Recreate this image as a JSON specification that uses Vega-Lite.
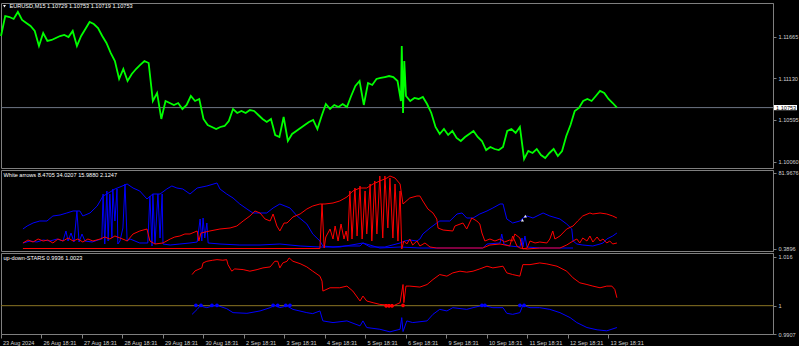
{
"$schema":"https://vega.github.io/schema/vega-lite/v6.json",
"background":"#000000",
"padding":{"left":-4,"top":2,"right":0,"bottom":0},
"spacing":2,
"bounds":"flush",
"resolve":{"scale":{"color":"independent","y":"independent","x":"independent"}},
"config":{"view":{"stroke":"#7f7f7f","strokeWidth":1},"axis":{"labelFont":"Liberation Sans","labelFontSize":5.6,"labelColor":"#d0d0d0","tickColor":"#7f7f7f","domainColor":"#7f7f7f","grid":false,"labelOverlap":false,"labelFlush":false}},
"datasets":{
"price":[{"b":0,"p":1.11673},{"b":10,"p":1.1193},{"b":20,"p":1.11917},{"b":30,"p":1.11892},{"b":40,"p":1.11982},{"b":50,"p":1.11879},{"b":60,"p":1.1184},{"b":70,"p":1.11802},{"b":80,"p":1.11738},{"b":90,"p":1.11545},{"b":100,"p":1.11712},{"b":110,"p":1.11609},{"b":120,"p":1.11622},{"b":130,"p":1.11648},{"b":140,"p":1.11673},{"b":150,"p":1.11686},{"b":160,"p":1.1166},{"b":170,"p":1.11738},{"b":180,"p":1.11545},{"b":190,"p":1.11673},{"b":200,"p":1.11763},{"b":210,"p":1.11853},{"b":220,"p":1.11827},{"b":230,"p":1.11776},{"b":240,"p":1.11673},{"b":250,"p":1.11583},{"b":260,"p":1.11455},{"b":270,"p":1.11352},{"b":280,"p":1.11121},{"b":290,"p":1.11249},{"b":300,"p":1.11095},{"b":310,"p":1.11185},{"b":320,"p":1.11249},{"b":330,"p":1.11301},{"b":340,"p":1.11352},{"b":350,"p":1.11326},{"b":360,"p":1.10838},{"b":370,"p":1.10941},{"b":380,"p":1.10607},{"b":390,"p":1.10838},{"b":400,"p":1.10812},{"b":410,"p":1.10787},{"b":420,"p":1.10812},{"b":430,"p":1.10735},{"b":440,"p":1.10787},{"b":450,"p":1.10902},{"b":460,"p":1.10838},{"b":470,"p":1.10864},{"b":480,"p":1.10607},{"b":490,"p":1.1053},{"b":500,"p":1.10504},{"b":510,"p":1.10478},{"b":520,"p":1.10504},{"b":530,"p":1.10517},{"b":540,"p":1.10581},{"b":550,"p":1.10735},{"b":560,"p":1.10684},{"b":570,"p":1.1071},{"b":580,"p":1.10684},{"b":590,"p":1.10722},{"b":600,"p":1.1071},{"b":610,"p":1.10658},{"b":620,"p":1.10607},{"b":630,"p":1.10568},{"b":640,"p":1.10607},{"b":650,"p":1.10401},{"b":660,"p":1.10375},{"b":670,"p":1.10632},{"b":680,"p":1.10324},{"b":690,"p":1.10414},{"b":700,"p":1.10453},{"b":710,"p":1.10491},{"b":720,"p":1.1053},{"b":730,"p":1.10568},{"b":740,"p":1.10594},{"b":750,"p":1.10478},{"b":760,"p":1.10645},{"b":770,"p":1.10799},{"b":780,"p":1.10735},{"b":790,"p":1.10787},{"b":800,"p":1.10761},{"b":810,"p":1.10799},{"b":820,"p":1.10761},{"b":830,"p":1.10902},{"b":840,"p":1.11031},{"b":850,"p":1.11095},{"b":860,"p":1.10787},{"b":870,"p":1.11069},{"b":880,"p":1.11044},{"b":890,"p":1.11121},{"b":900,"p":1.11134},{"b":910,"p":1.11146},{"b":920,"p":1.11159},{"b":930,"p":1.11146},{"b":940,"p":1.11095},{"b":948,"p":1.10838},{"b":950,"p":1.11545},{"b":953,"p":1.10684},{"b":956,"p":1.11352},{"b":960,"p":1.10902},{"b":970,"p":1.10838},{"b":980,"p":1.10877},{"b":990,"p":1.10864},{"b":1000,"p":1.10889},{"b":1010,"p":1.10799},{"b":1020,"p":1.10684},{"b":1030,"p":1.10504},{"b":1040,"p":1.10414},{"b":1050,"p":1.10478},{"b":1060,"p":1.10401},{"b":1070,"p":1.10453},{"b":1080,"p":1.10363},{"b":1090,"p":1.10324},{"b":1100,"p":1.10375},{"b":1110,"p":1.10414},{"b":1120,"p":1.10453},{"b":1130,"p":1.10375},{"b":1140,"p":1.10324},{"b":1150,"p":1.10208},{"b":1160,"p":1.10247},{"b":1170,"p":1.10221},{"b":1180,"p":1.10208},{"b":1190,"p":1.10247},{"b":1200,"p":1.10453},{"b":1210,"p":1.10478},{"b":1220,"p":1.10427},{"b":1230,"p":1.10504},{"b":1240,"p":1.10093},{"b":1250,"p":1.10196},{"b":1260,"p":1.1017},{"b":1270,"p":1.10221},{"b":1280,"p":1.10144},{"b":1290,"p":1.10106},{"b":1300,"p":1.1017},{"b":1310,"p":1.10221},{"b":1320,"p":1.10131},{"b":1330,"p":1.10196},{"b":1340,"p":1.10388},{"b":1350,"p":1.1053},{"b":1360,"p":1.1071},{"b":1370,"p":1.10748},{"b":1380,"p":1.10838},{"b":1390,"p":1.10864},{"b":1400,"p":1.10838},{"b":1410,"p":1.10902},{"b":1420,"p":1.10967},{"b":1430,"p":1.10941},{"b":1440,"p":1.10864},{"b":1450,"p":1.10812},{"b":1460,"p":1.10753}],
"osc":[
{"s":"bA","b":52,"v":21.85},{"s":"bA","b":62,"v":25.07},{"s":"bA","b":76,"v":28.29},{"s":"bA","b":92,"v":30.44},{"s":"bA","b":109,"v":30.44},{"s":"bA","b":123,"v":35.81},{"s":"bA","b":140,"v":36.88},{"s":"bA","b":156,"v":39.03},{"s":"bA","b":171,"v":41.18},{"s":"bA","b":187,"v":41.18},{"s":"bA","b":194,"v":35.81},{"s":"bA","b":211,"v":39.03},{"s":"bA","b":228,"v":46.54},{"s":"bA","b":242,"v":57.28},{"s":"bA","b":251,"v":59.42},{"s":"bA","b":270,"v":64.79},{"s":"bA","b":282,"v":66.94},{"s":"bA","b":299,"v":70.16},{"s":"bA","b":313,"v":65.86},{"s":"bA","b":329,"v":62.64},{"s":"bA","b":346,"v":54.06},{"s":"bA","b":360,"v":59.42},{"s":"bA","b":377,"v":59.42},{"s":"bA","b":393,"v":64.79},{"s":"bA","b":405,"v":68.01},{"s":"bA","b":417,"v":65.86},{"s":"bA","b":431,"v":64.79},{"s":"bA","b":448,"v":59.42},{"s":"bA","b":465,"v":65.86},{"s":"bA","b":488,"v":68.01},{"s":"bA","b":512,"v":71.23},{"s":"bA","b":519,"v":64.79},{"s":"bA","b":535,"v":59.42},{"s":"bA","b":550,"v":55.13},{"s":"bA","b":566,"v":48.69},{"s":"bA","b":583,"v":43.32},{"s":"bA","b":597,"v":39.03},{"s":"bA","b":614,"v":39.03},{"s":"bA","b":630,"v":39.03},{"s":"bA","b":645,"v":44.4},{"s":"bA","b":661,"v":48.69},{"s":"bA","b":685,"v":44.4},{"s":"bA","b":702,"v":35.81},{"s":"bA","b":725,"v":27.22},{"s":"bA","b":739,"v":16.49},{"s":"bA","b":756,"v":8.97},{"s":"bA","b":763,"v":3.61},{"s":"bA","b":787,"v":2.53},{"s":"bA","b":815,"v":3.61},{"s":"bA","b":851,"v":3.61},{"s":"bA","b":858,"v":6.83},{"s":"bA","b":875,"v":2.53},{"s":"bA","b":910,"v":2.53},{"s":"bA","b":946,"v":6.83},{"s":"bA","b":957,"v":8.97},{"s":"bA","b":969,"v":10.05},{"s":"bA","b":986,"v":8.97},{"s":"bA","b":993,"v":11.12},{"s":"bA","b":1000,"v":16.49},{"s":"bA","b":1017,"v":22.93},{"s":"bA","b":1033,"v":28.29},{"s":"bA","b":1040,"v":30.44},{"s":"bA","b":1064,"v":30.44},{"s":"bA","b":1081,"v":37.96},{"s":"bA","b":1093,"v":39.03},{"s":"bA","b":1104,"v":33.66},{"s":"bA","b":1119,"v":33.66},{"s":"bA","b":1135,"v":37.96},{"s":"bA","b":1152,"v":41.18},{"s":"bA","b":1166,"v":44.4},{"s":"bA","b":1183,"v":48.69},{"s":"bA","b":1190,"v":48.69},{"s":"bA","b":1199,"v":32.59},{"s":"bA","b":1213,"v":28.29},{"s":"bA","b":1230,"v":30.44},{"s":"bA","b":1237,"v":33.66},{"s":"bA","b":1247,"v":35.81},{"s":"bA","b":1261,"v":33.66},{"s":"bA","b":1285,"v":39.03},{"s":"bA","b":1301,"v":35.81},{"s":"bA","b":1325,"v":32.59},{"s":"bA","b":1341,"v":27.22},{"s":"bA","b":1353,"v":21.85},{"s":"bA","b":1356,"v":8.97},{"s":"bA","b":1365,"v":5.75},{"s":"bA","b":1379,"v":4.68},{"s":"bA","b":1403,"v":3.61},{"s":"bA","b":1420,"v":5.75},{"s":"bA","b":1427,"v":6.83},{"s":"bA","b":1436,"v":11.12},{"s":"bA","b":1450,"v":14.34},{"s":"bA","b":1460,"v":17.56},
{"s":"bB","b":52,"v":6.83},{"s":"bB","b":69,"v":8.97},{"s":"bB","b":85,"v":7.9},{"s":"bB","b":100,"v":10.05},{"s":"bB","b":116,"v":8.97},{"s":"bB","b":133,"v":11.12},{"s":"bB","b":147,"v":8.97},{"s":"bB","b":154,"v":19.71},{"s":"bB","b":159,"v":8.97},{"s":"bB","b":166,"v":17.56},{"s":"bB","b":173,"v":7.9},{"s":"bB","b":180,"v":41.18},{"s":"bB","b":185,"v":7.9},{"s":"bB","b":192,"v":16.49},{"s":"bB","b":199,"v":8.97},{"s":"bB","b":216,"v":7.9},{"s":"bB","b":230,"v":10.05},{"s":"bB","b":239,"v":11.12},{"s":"bB","b":242,"v":59.42},{"s":"bB","b":246,"v":5.75},{"s":"bB","b":251,"v":62.64},{"s":"bB","b":254,"v":8.97},{"s":"bB","b":258,"v":59.42},{"s":"bB","b":263,"v":12.19},{"s":"bB","b":265,"v":64.79},{"s":"bB","b":270,"v":30.44},{"s":"bB","b":275,"v":64.79},{"s":"bB","b":277,"v":5.75},{"s":"bB","b":282,"v":8.97},{"s":"bB","b":289,"v":22.93},{"s":"bB","b":294,"v":70.16},{"s":"bB","b":299,"v":8.97},{"s":"bB","b":306,"v":11.12},{"s":"bB","b":329,"v":6.83},{"s":"bB","b":348,"v":6.83},{"s":"bB","b":353,"v":57.28},{"s":"bB","b":358,"v":3.61},{"s":"bB","b":360,"v":59.42},{"s":"bB","b":365,"v":5.75},{"s":"bB","b":372,"v":59.42},{"s":"bB","b":377,"v":12.19},{"s":"bB","b":382,"v":59.42},{"s":"bB","b":384,"v":5.75},{"s":"bB","b":401,"v":4.68},{"s":"bB","b":424,"v":5.75},{"s":"bB","b":448,"v":6.83},{"s":"bB","b":465,"v":7.9},{"s":"bB","b":472,"v":32.59},{"s":"bB","b":476,"v":8.97},{"s":"bB","b":479,"v":33.66},{"s":"bB","b":483,"v":12.19},{"s":"bB","b":488,"v":28.29},{"s":"bB","b":491,"v":6.83},{"s":"bB","b":519,"v":5.75},{"s":"bB","b":566,"v":4.68},{"s":"bB","b":614,"v":4.68},{"s":"bB","b":661,"v":5.75},{"s":"bB","b":709,"v":3.61},{"s":"bB","b":756,"v":2.53},{"s":"bB","b":803,"v":2.53},{"s":"bB","b":858,"v":6.83},{"s":"bB","b":898,"v":1.46},{"s":"bB","b":946,"v":2.53},{"s":"bB","b":993,"v":1.46},{"s":"bB","b":1142,"v":1.46},{"s":"bB","b":1152,"v":5.75},{"s":"bB","b":1183,"v":6.83},{"s":"bB","b":1187,"v":16.49},{"s":"bB","b":1192,"v":5.75},{"s":"bB","b":1206,"v":3.61},{"s":"bB","b":1230,"v":2.53},{"s":"bB","b":1235,"v":12.19},{"s":"bB","b":1237,"v":2.53},{"s":"bB","b":1242,"v":14.34},{"s":"bB","b":1247,"v":2.53},{"s":"bB","b":1277,"v":1.46},{"s":"bB","b":1356,"v":1.46},
{"s":"rA","b":52,"v":6.83},{"s":"rA","b":64,"v":10.05},{"s":"rA","b":76,"v":7.9},{"s":"rA","b":88,"v":11.12},{"s":"rA","b":100,"v":8.97},{"s":"rA","b":111,"v":10.05},{"s":"rA","b":123,"v":6.83},{"s":"rA","b":135,"v":11.12},{"s":"rA","b":147,"v":8.97},{"s":"rA","b":159,"v":12.19},{"s":"rA","b":171,"v":8.97},{"s":"rA","b":182,"v":11.12},{"s":"rA","b":194,"v":7.9},{"s":"rA","b":206,"v":11.12},{"s":"rA","b":218,"v":8.97},{"s":"rA","b":235,"v":11.12},{"s":"rA","b":246,"v":13.27},{"s":"rA","b":258,"v":11.12},{"s":"rA","b":270,"v":14.34},{"s":"rA","b":282,"v":12.19},{"s":"rA","b":294,"v":10.05},{"s":"rA","b":299,"v":8.97},{"s":"rA","b":313,"v":16.49},{"s":"rA","b":329,"v":19.71},{"s":"rA","b":346,"v":21.85},{"s":"rA","b":353,"v":8.97},{"s":"rA","b":365,"v":5.75},{"s":"rA","b":384,"v":6.83},{"s":"rA","b":401,"v":11.12},{"s":"rA","b":412,"v":13.27},{"s":"rA","b":424,"v":14.34},{"s":"rA","b":436,"v":16.49},{"s":"rA","b":448,"v":16.49},{"s":"rA","b":465,"v":19.71},{"s":"rA","b":469,"v":8.97},{"s":"rA","b":474,"v":17.56},{"s":"rA","b":495,"v":19.71},{"s":"rA","b":519,"v":21.85},{"s":"rA","b":543,"v":22.93},{"s":"rA","b":559,"v":25.07},{"s":"rA","b":574,"v":30.44},{"s":"rA","b":590,"v":35.81},{"s":"rA","b":602,"v":41.18},{"s":"rA","b":614,"v":39.03},{"s":"rA","b":626,"v":32.59},{"s":"rA","b":638,"v":30.44},{"s":"rA","b":645,"v":37.96},{"s":"rA","b":654,"v":25.07},{"s":"rA","b":661,"v":19.71},{"s":"rA","b":671,"v":28.29},{"s":"rA","b":678,"v":28.29},{"s":"rA","b":692,"v":34.74},{"s":"rA","b":709,"v":37.96},{"s":"rA","b":725,"v":43.32},{"s":"rA","b":739,"v":46.54},{"s":"rA","b":756,"v":48.69},{"s":"rA","b":768,"v":48.69},{"s":"rA","b":787,"v":49.76},{"s":"rA","b":803,"v":51.91},{"s":"rA","b":820,"v":56.2},{"s":"rA","b":834,"v":62.64},{"s":"rA","b":851,"v":65.86},{"s":"rA","b":867,"v":65.86},{"s":"rA","b":882,"v":70.16},{"s":"rA","b":898,"v":73.38},{"s":"rA","b":915,"v":76.6},{"s":"rA","b":922,"v":78.74},{"s":"rA","b":934,"v":76.6},{"s":"rA","b":946,"v":70.16},{"s":"rA","b":953,"v":48.69},{"s":"rA","b":969,"v":55.13},{"s":"rA","b":986,"v":57.28},{"s":"rA","b":993,"v":57.28},{"s":"rA","b":1000,"v":51.91},{"s":"rA","b":1012,"v":43.32},{"s":"rA","b":1024,"v":39.03},{"s":"rA","b":1033,"v":32.59},{"s":"rA","b":1036,"v":22.93},{"s":"rA","b":1048,"v":20.78},{"s":"rA","b":1071,"v":19.71},{"s":"rA","b":1076,"v":25.07},{"s":"rA","b":1095,"v":28.29},{"s":"rA","b":1104,"v":21.85},{"s":"rA","b":1116,"v":33.66},{"s":"rA","b":1128,"v":30.44},{"s":"rA","b":1135,"v":27.22},{"s":"rA","b":1140,"v":17.56},{"s":"rA","b":1147,"v":8.97},{"s":"rA","b":1159,"v":11.12},{"s":"rA","b":1171,"v":8.97},{"s":"rA","b":1183,"v":11.12},{"s":"rA","b":1194,"v":7.9},{"s":"rA","b":1206,"v":10.05},{"s":"rA","b":1213,"v":8.97},{"s":"rA","b":1218,"v":16.49},{"s":"rA","b":1230,"v":12.19},{"s":"rA","b":1237,"v":0.39},{"s":"rA","b":1247,"v":1.46},{"s":"rA","b":1254,"v":8.97},{"s":"rA","b":1266,"v":6.83},{"s":"rA","b":1277,"v":7.9},{"s":"rA","b":1294,"v":6.83},{"s":"rA","b":1301,"v":11.12},{"s":"rA","b":1308,"v":19.71},{"s":"rA","b":1313,"v":11.12},{"s":"rA","b":1325,"v":14.34},{"s":"rA","b":1341,"v":21.85},{"s":"rA","b":1356,"v":25.07},{"s":"rA","b":1367,"v":30.44},{"s":"rA","b":1379,"v":35.81},{"s":"rA","b":1396,"v":39.03},{"s":"rA","b":1403,"v":37.96},{"s":"rA","b":1420,"v":39.03},{"s":"rA","b":1436,"v":37.96},{"s":"rA","b":1450,"v":35.81},{"s":"rA","b":1460,"v":33.66},
{"s":"rB","b":52,"v":0.92},{"s":"rB","b":756,"v":0.92},{"s":"rB","b":761,"v":48.69},{"s":"rB","b":766,"v":1.46},{"s":"rB","b":770,"v":13.27},{"s":"rB","b":780,"v":21.85},{"s":"rB","b":787,"v":11.12},{"s":"rB","b":792,"v":25.07},{"s":"rB","b":799,"v":8.97},{"s":"rB","b":806,"v":27.22},{"s":"rB","b":813,"v":11.12},{"s":"rB","b":818,"v":19.71},{"s":"rB","b":822,"v":8.97},{"s":"rB","b":827,"v":62.64},{"s":"rB","b":832,"v":11.12},{"s":"rB","b":839,"v":65.86},{"s":"rB","b":844,"v":14.34},{"s":"rB","b":851,"v":68.01},{"s":"rB","b":856,"v":11.12},{"s":"rB","b":863,"v":62.64},{"s":"rB","b":867,"v":16.49},{"s":"rB","b":875,"v":70.16},{"s":"rB","b":879,"v":8.97},{"s":"rB","b":886,"v":73.38},{"s":"rB","b":891,"v":16.49},{"s":"rB","b":898,"v":78.74},{"s":"rB","b":905,"v":12.19},{"s":"rB","b":910,"v":78.74},{"s":"rB","b":917,"v":22.93},{"s":"rB","b":922,"v":76.6},{"s":"rB","b":929,"v":12.19},{"s":"rB","b":934,"v":70.16},{"s":"rB","b":941,"v":8.97},{"s":"rB","b":946,"v":62.64},{"s":"rB","b":950,"v":0.39},{"s":"rB","b":955,"v":8.97},{"s":"rB","b":962,"v":5.75},{"s":"rB","b":969,"v":11.12},{"s":"rB","b":976,"v":4.68},{"s":"rB","b":986,"v":8.97},{"s":"rB","b":993,"v":3.61},{"s":"rB","b":1005,"v":6.83},{"s":"rB","b":1017,"v":2.53},{"s":"rB","b":1033,"v":1.46},{"s":"rB","b":1142,"v":1.46},{"s":"rB","b":1159,"v":4.68},{"s":"rB","b":1183,"v":5.75},{"s":"rB","b":1206,"v":3.61},{"s":"rB","b":1213,"v":14.34},{"s":"rB","b":1223,"v":3.61},{"s":"rB","b":1230,"v":1.46},{"s":"rB","b":1247,"v":0.39},{"s":"rB","b":1277,"v":1.46},{"s":"rB","b":1325,"v":1.46},{"s":"rB","b":1341,"v":4.68},{"s":"rB","b":1356,"v":8.97},{"s":"rB","b":1365,"v":11.12},{"s":"rB","b":1372,"v":6.83},{"s":"rB","b":1379,"v":12.19},{"s":"rB","b":1389,"v":8.97},{"s":"rB","b":1396,"v":14.34},{"s":"rB","b":1403,"v":7.9},{"s":"rB","b":1413,"v":13.27},{"s":"rB","b":1420,"v":8.97},{"s":"rB","b":1427,"v":11.12},{"s":"rB","b":1436,"v":6.83},{"s":"rB","b":1443,"v":8.97},{"s":"rB","b":1450,"v":5.75},{"s":"rB","b":1460,"v":6.83}],
"arrows":[{"b":1236,"v":31.5},{"b":1243,"v":35.8}],
"ud":[
{"s":"r","b":453,"v":1.01022},{"s":"r","b":460,"v":1.01143},{"s":"r","b":467,"v":1.01185},{"s":"r","b":476,"v":1.01241},{"s":"r","b":479,"v":1.01404},{"s":"r","b":488,"v":1.01459},{"s":"r","b":502,"v":1.01492},{"s":"r","b":512,"v":1.01512},{"s":"r","b":526,"v":1.01492},{"s":"r","b":535,"v":1.01512},{"s":"r","b":538,"v":1.01348},{"s":"r","b":547,"v":1.01133},{"s":"r","b":554,"v":1.01208},{"s":"r","b":574,"v":1.01185},{"s":"r","b":590,"v":1.01133},{"s":"r","b":607,"v":1.01185},{"s":"r","b":621,"v":1.01241},{"s":"r","b":638,"v":1.01273},{"s":"r","b":649,"v":1.01459},{"s":"r","b":656,"v":1.01459},{"s":"r","b":661,"v":1.01241},{"s":"r","b":668,"v":1.01404},{"s":"r","b":678,"v":1.01459},{"s":"r","b":683,"v":1.01567},{"s":"r","b":692,"v":1.01459},{"s":"r","b":709,"v":1.01381},{"s":"r","b":725,"v":1.01273},{"s":"r","b":739,"v":1.01133},{"s":"r","b":756,"v":1.0097},{"s":"r","b":761,"v":1.00806},{"s":"r","b":763,"v":1.0048},{"s":"r","b":780,"v":1.00588},{"s":"r","b":803,"v":1.00588},{"s":"r","b":820,"v":1.00643},{"s":"r","b":834,"v":1.0048},{"s":"r","b":851,"v":1.00153},{"s":"r","b":858,"v":1.00317},{"s":"r","b":867,"v":1.00153},{"s":"r","b":882,"v":1.00098},{"s":"r","b":898,"v":1.00042},{"s":"r","b":915,"v":1.00023},{"s":"r","b":929,"v":0.9999},{"s":"r","b":946,"v":1.00098},{"s":"r","b":953,"v":1.00695},{"s":"r","b":955,"v":1.00098},{"s":"r","b":960,"v":1.00643},{"s":"r","b":969,"v":1.00643},{"s":"r","b":993,"v":1.00611},{"s":"r","b":1010,"v":1.00695},{"s":"r","b":1024,"v":1.00859},{"s":"r","b":1040,"v":1.01022},{"s":"r","b":1057,"v":1.0097},{"s":"r","b":1071,"v":1.01077},{"s":"r","b":1088,"v":1.01133},{"s":"r","b":1104,"v":1.011},{"s":"r","b":1119,"v":1.01133},{"s":"r","b":1135,"v":1.01208},{"s":"r","b":1152,"v":1.01296},{"s":"r","b":1166,"v":1.01241},{"s":"r","b":1190,"v":1.01296},{"s":"r","b":1199,"v":1.01077},{"s":"r","b":1213,"v":1.01022},{"s":"r","b":1230,"v":1.0097},{"s":"r","b":1237,"v":1.01348},{"s":"r","b":1254,"v":1.01348},{"s":"r","b":1277,"v":1.01404},{"s":"r","b":1294,"v":1.01371},{"s":"r","b":1318,"v":1.01296},{"s":"r","b":1341,"v":1.01133},{"s":"r","b":1356,"v":1.00914},{"s":"r","b":1372,"v":1.00751},{"s":"r","b":1389,"v":1.00695},{"s":"r","b":1403,"v":1.00643},{"s":"r","b":1420,"v":1.00588},{"s":"r","b":1436,"v":1.00643},{"s":"r","b":1448,"v":1.00643},{"s":"r","b":1455,"v":1.00532},{"s":"r","b":1460,"v":1.00261},
{"s":"b","b":453,"v":0.99716},{"s":"b","b":465,"v":0.99879},{"s":"b","b":472,"v":0.9999},{"s":"b","b":488,"v":0.99935},{"s":"b","b":502,"v":0.9999},{"s":"b","b":512,"v":1.0001},{"s":"b","b":535,"v":0.99902},{"s":"b","b":550,"v":0.99771},{"s":"b","b":583,"v":0.99749},{"s":"b","b":614,"v":0.99827},{"s":"b","b":638,"v":0.99935},{"s":"b","b":649,"v":1.0001},{"s":"b","b":661,"v":0.99935},{"s":"b","b":678,"v":0.9999},{"s":"b","b":692,"v":0.99879},{"s":"b","b":725,"v":0.99771},{"s":"b","b":739,"v":0.99739},{"s":"b","b":756,"v":0.99827},{"s":"b","b":763,"v":0.995},{"s":"b","b":787,"v":0.99445},{"s":"b","b":820,"v":0.995},{"s":"b","b":851,"v":0.99337},{"s":"b","b":858,"v":0.995},{"s":"b","b":867,"v":0.99282},{"s":"b","b":898,"v":0.99226},{"s":"b","b":922,"v":0.99141},{"s":"b","b":946,"v":0.99226},{"s":"b","b":950,"v":0.99608},{"s":"b","b":953,"v":0.99151},{"s":"b","b":962,"v":0.995},{"s":"b","b":976,"v":0.99445},{"s":"b","b":1010,"v":0.995},{"s":"b","b":1024,"v":0.99716},{"s":"b","b":1040,"v":0.99879},{"s":"b","b":1057,"v":0.99827},{"s":"b","b":1071,"v":0.99935},{"s":"b","b":1104,"v":0.99879},{"s":"b","b":1119,"v":0.99935},{"s":"b","b":1142,"v":1.0001},{"s":"b","b":1166,"v":0.99935},{"s":"b","b":1190,"v":0.99935},{"s":"b","b":1199,"v":0.99749},{"s":"b","b":1213,"v":0.99716},{"s":"b","b":1230,"v":0.99771},{"s":"b","b":1237,"v":1.0001},{"s":"b","b":1254,"v":0.99935},{"s":"b","b":1277,"v":0.99935},{"s":"b","b":1301,"v":0.99879},{"s":"b","b":1325,"v":0.99771},{"s":"b","b":1349,"v":0.99608},{"s":"b","b":1365,"v":0.99445},{"s":"b","b":1389,"v":0.99282},{"s":"b","b":1413,"v":0.99207},{"s":"b","b":1436,"v":0.99174},{"s":"b","b":1460,"v":0.99282}],
"stars":[{"s":"b","b":462,"v":1.0001},{"s":"b","b":474,"v":1.0001},{"s":"b","b":500,"v":1.0001},{"s":"b","b":512,"v":1.0001},{"s":"b","b":645,"v":1.0001},{"s":"b","b":656,"v":1.0001},{"s":"b","b":675,"v":1.0001},{"s":"b","b":685,"v":1.0001},{"s":"b","b":1140,"v":1.0001},{"s":"b","b":1147,"v":1.0001},{"s":"b","b":1230,"v":1.0001},{"s":"b","b":1240,"v":1.0001},{"s":"r","b":913,"v":0.99995},{"s":"r","b":920,"v":0.99995},{"s":"r","b":927,"v":0.99995},{"s":"r","b":953,"v":1.0001}]
},
"vconcat":[
{"width":772,"height":165,
 "layer":[
  {"data":{"values":[{}]},"mark":{"type":"rule","color":"#6e7585","strokeWidth":1},
   "encoding":{"y":{"datum":1.10753,"type":"quantitative"}}},
  {"data":{"name":"price"},"mark":{"type":"line","color":"#00ff00","strokeWidth":1.8},
   "encoding":{"x":{"field":"b","type":"quantitative","scale":{"domain":[0,1830],"nice":false,"zero":false},"axis":null},
    "y":{"field":"p","type":"quantitative","scale":{"domain":[1.09977,1.12097],"nice":false,"zero":false},
     "axis":{"orient":"right","title":null,"values":[1.1193,1.11665,1.114,1.1113,1.10865,1.10595,1.1033,1.1006],"format":".5f","tickSize":3,"labelPadding":2}}}},
  {"data":{"values":[{}]},"mark":{"type":"rect","color":"#ffffff","xOffset":1,"x2Offset":24,"yOffset":-2.6,"y2Offset":2.6},
   "encoding":{"x":{"datum":1830,"type":"quantitative"},"x2":{"datum":1830},"y":{"datum":1.10753,"type":"quantitative"},"y2":{"datum":1.10753}}},
  {"data":{"values":[{}]},"mark":{"type":"text","text":"1.10753","color":"#000000","font":"Liberation Sans","fontSize":5.6,"align":"left","baseline":"middle","dx":3},
   "encoding":{"x":{"datum":1830,"type":"quantitative"},"y":{"datum":1.10753,"type":"quantitative"}}},
  {"data":{"values":[{}]},"mark":{"type":"point","shape":"triangle-down","filled":true,"color":"#ffffff","size":8,"xOffset":3.5,"yOffset":3.2,"opacity":1},
   "encoding":{"x":{"datum":0,"type":"quantitative"},"y":{"datum":1.12097,"type":"quantitative"}}},
  {"data":{"values":[{}]},"mark":{"type":"text","text":"EURUSD,M15  1.10729 1.10753 1.10719 1.10753","color":"#ffffff","font":"Liberation Sans","fontSize":5.6,"align":"left","baseline":"middle","dx":8.5,"dy":3.2},
   "encoding":{"x":{"datum":0,"type":"quantitative"},"y":{"datum":1.12097,"type":"quantitative"}}}
 ]},
{"width":772,"height":81,
 "layer":[
  {"data":{"name":"osc"},"mark":{"type":"line","strokeWidth":1},
   "encoding":{"x":{"field":"b","type":"quantitative","scale":{"domain":[0,1830],"nice":false,"zero":false},"axis":null},
    "y":{"field":"v","type":"quantitative","scale":{"domain":[-1.76,85.18],"nice":false,"zero":false},
     "axis":{"orient":"right","title":null,"values":[81.9676,0.3896],"format":".4f","tickSize":3,"labelPadding":2}},
    "color":{"field":"s","type":"nominal","scale":{"domain":["bA","bB","rA","rB"],"range":["#0000ff","#0000ff","#ff0000","#ff0000"]},"legend":null}}},
  {"data":{"name":"arrows"},"mark":{"type":"point","shape":"triangle-up","filled":true,"color":"#e8e8ff","size":10,"opacity":1},
   "encoding":{"x":{"field":"b","type":"quantitative"},"y":{"field":"v","type":"quantitative"}}},
  {"data":{"values":[{}]},"mark":{"type":"text","text":"White arrows 8.4705 34.0207 15.9880 2.1247","color":"#ffffff","font":"Liberation Sans","fontSize":5.6,"align":"left","baseline":"middle","dx":2.5,"dy":4.5},
   "encoding":{"x":{"datum":0,"type":"quantitative"},"y":{"datum":85.18,"type":"quantitative"}}}
 ]},
{"width":772,"height":81,
 "layer":[
  {"data":{"values":[{}]},"mark":{"type":"rule","color":"#8a7424","strokeWidth":1},
   "encoding":{"y":{"datum":1,"type":"quantitative"}}},
  {"data":{"name":"ud"},"mark":{"type":"line","strokeWidth":1},
   "encoding":{"x":{"field":"b","type":"quantitative","scale":{"domain":[0,1830],"nice":false,"zero":false},
     "axis":{"title":null,"values":[0,96,192,288,384,480,576,672,768,864,960,1056,1152,1248,1344,1440],"labelExpr":"['23 Aug 2024','26 Aug 18:31','27 Aug 18:31','28 Aug 18:31','29 Aug 18:31','30 Aug 18:31','2 Sep 18:31','3 Sep 18:31','4 Sep 18:31','5 Sep 18:31','6 Sep 18:31','9 Sep 18:31','10 Sep 18:31','11 Sep 18:31','12 Sep 18:31','13 Sep 18:31'][round(datum.value/96)]","labelAlign":"left","labelOffset":1.5,"tickSize":4,"labelPadding":2}},
    "y":{"field":"v","type":"quantitative","scale":{"domain":[0.9907,1.0173],"nice":false,"zero":false},
     "axis":{"orient":"right","title":null,"values":[1.016,1,0.9907],"format":".4~f","tickSize":3,"labelPadding":2}},
    "color":{"field":"s","type":"nominal","scale":{"domain":["r","b"],"range":["#ff0000","#0000ff"]},"legend":null}}},
  {"data":{"name":"stars"},"mark":{"type":"point","shape":"M-1,0L1,0M0,-1L0,1M-0.7,-0.7L0.7,0.7M-0.7,0.7L0.7,-0.7","strokeWidth":1.2,"size":14,"opacity":1,"filled":false},
   "encoding":{"x":{"field":"b","type":"quantitative"},"y":{"field":"v","type":"quantitative"},
    "color":{"field":"s","type":"nominal","scale":{"domain":["r","b"],"range":["#ff0000","#0000ff"]},"legend":null}}},
  {"data":{"values":[{}]},"mark":{"type":"text","text":"up-down-STARS 0.9936 1.0023","color":"#ffffff","font":"Liberation Sans","fontSize":5.6,"align":"left","baseline":"middle","dx":2.5,"dy":5},
   "encoding":{"x":{"datum":0,"type":"quantitative"},"y":{"datum":1.0173,"type":"quantitative"}}}
 ]}
]
}
